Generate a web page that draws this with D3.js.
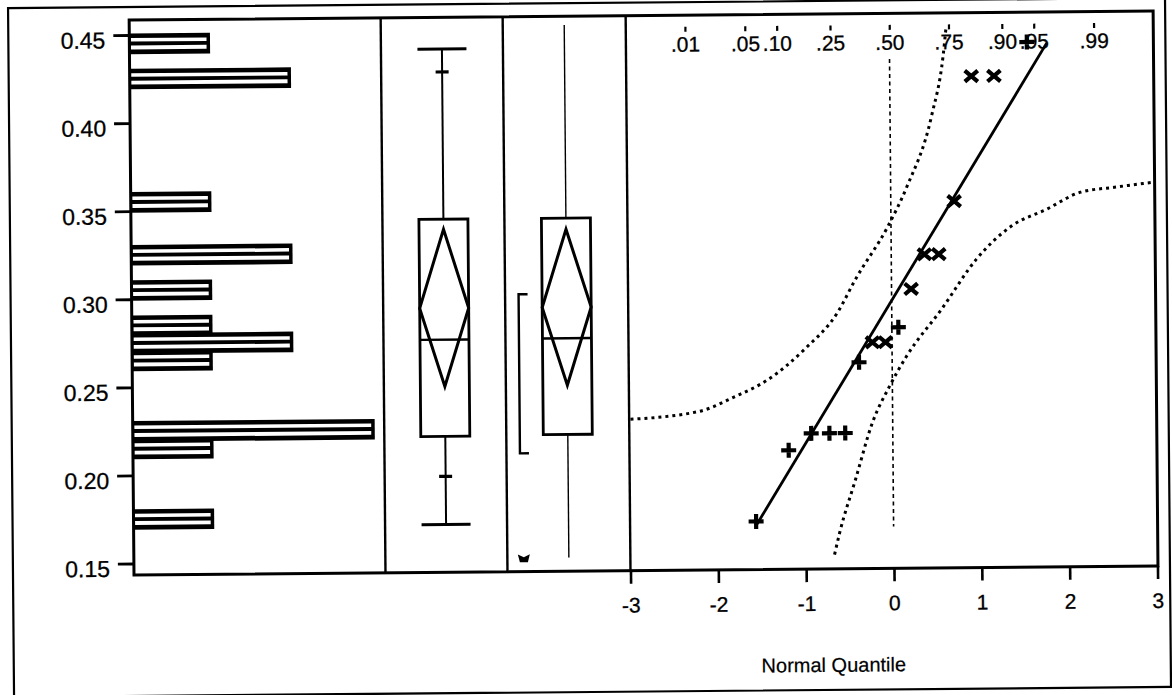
<!DOCTYPE html>
<html><head><meta charset="utf-8">
<script src="https://cdn.jsdelivr.net/npm/d3@7"></script>
<style>
body{margin:0;background:#fff;}
svg{display:block;}
text{font-family:"Liberation Sans",Arial,sans-serif;fill:#000;}
</style></head><body>
<svg id="c" width="1172" height="695"></svg>
<script>
// ---- data ----
const histBinLo = [0.17, 0.21, 0.22, 0.26, 0.27, 0.28, 0.30, 0.32, 0.35, 0.42, 0.44];
const histCounts = [1, 1, 3, 1, 2, 1, 1, 2, 1, 2, 1];
const yTicks = [0.15, 0.20, 0.25, 0.30, 0.35, 0.40, 0.45];
const values = [0.1708, 0.211, 0.2205, 0.2205, 0.2205, 0.2606, 0.2719, 0.2719, 0.2803, 0.302, 0.3216, 0.3216, 0.3516, 0.4225, 0.4225, 0.4416];
const markers = ["+", "+", "+", "+", "+", "+", "x", "x", "+", "x", "x", "x", "x", "x", "x", "+"];
const quantTicks = [-3, -2, -1, 0, 1, 2, 3];
const probLabels = [".01", ".05", ".10", ".25", ".50", ".75", ".90", ".95", ".99"];
const probValues = [0.01, 0.05, 0.10, 0.25, 0.50, 0.75, 0.90, 0.95, 0.99];
const fitMean = 0.2955, fitSD = 0.0812, fitQRange = [-1.56, 1.79];
const bandUpper = [[-2.985,0.2294],[-2.199,0.2336],[-1.799,0.2416],[-1.41,0.2514],[-0.996,0.2683],[-0.617,0.289],[-0.409,0.3078],[-0.04,0.3372],[0.181,0.3596],[0.473,0.4001],[0.61,0.4341],[0.648,0.4511]];
const bandLower = [[-0.675,0.1516],[-0.616,0.1637],[-0.429,0.1941],[-0.23,0.2264],[-0.033,0.2468],[0.164,0.2638],[0.567,0.2903],[0.97,0.3186],[1.371,0.3372],[1.774,0.3466],[2.164,0.3561],[2.564,0.3588],[3.0,0.3614]];
const refLine = [[0, 0.4326], [0, 0.1673]];
// box plots: [outlier box, quantile box]
const boxQ1 = [0.2206, 0.2211];
const boxMedian = [0.2755, 0.2757];
const boxQ3 = [0.3439, 0.3439];
const boxMean = [0.2934, 0.2933];
const boxMeanLo = [0.2490, 0.2490];
const boxMeanHi = [0.3382, 0.3376];
const boxWhiskerLo = [0.1706, 0.1513];
const boxWhiskerHi = [0.4405, 0.4535];
const quantileMarks = [0.1979, 0.4275];
const shortestHalf = [0.2106, 0.3009];
const stray = [0.151];
const binWidth = 0.01;

// ---- inverse normal ----
function qnorm(p){
  const a=[-3.969683028665376e+01,2.209460984245205e+02,-2.759285104469687e+02,1.383577518672690e+02,-3.066479806614716e+01,2.506628277459239e+00];
  const b=[-5.447609879822406e+01,1.615858368580409e+02,-1.556989798598866e+02,6.680131188771972e+01,-1.328068155288572e+01];
  const c=[-7.784894002430293e-03,-3.223964580411365e-01,-2.400758277161838e+00,-2.549732539343734e+00,4.374664141464968e+00,2.938163982698783e+00];
  const d=[7.784695709041462e-03,3.224671290700398e-01,2.445134137142996e+00,3.754408661907416e+00];
  const pl=0.02425; let q,r;
  if(p<pl){q=Math.sqrt(-2*Math.log(p));return (((((c[0]*q+c[1])*q+c[2])*q+c[3])*q+c[4])*q+c[5])/((((d[0]*q+d[1])*q+d[2])*q+d[3])*q+1);}
  if(p<=1-pl){q=p-0.5;r=q*q;return (((((a[0]*r+a[1])*r+a[2])*r+a[3])*r+a[4])*r+a[5])*q/(((((b[0]*r+b[1])*r+b[2])*r+b[3])*r+b[4])*r+1);}
  q=Math.sqrt(-2*Math.log(1-p));return -(((((c[0]*q+c[1])*q+c[2])*q+c[3])*q+c[4])*q+c[5])/((((d[0]*q+d[1])*q+d[2])*q+d[3])*q+1);
}

// ---- layout ----
const L = 134, R = 1158, T = 20, B = 575;
const panelX = [L, 385.5, 507.5, 630.5, R];
const svg = d3.select("#c");
const g = svg.append("g").attr("transform", `rotate(-0.5, ${L}, ${B})`);

const y = d3.scaleLinear().domain([0.15, 0.45]).range([563.5, 35]);
const cx = d3.scaleLinear().domain([0, 3]).range([L, 376]);
const qx = d3.scaleLinear().domain([-3, 3]).range([630.5, 1157.5]);

// outer frame
g.append("rect").attr("x", 13).attr("y", 7).attr("width", 1157).attr("height", 689)
  .attr("fill", "none").attr("stroke", "#000").attr("stroke-width", 2.2);

// histogram bars
const order = d3.range(histCounts.length).sort((a, b) => histCounts[a] - histCounts[b]);
const bars = g.append("g").selectAll("g").data(order).join("g");
bars.each(function(i){
  const s = d3.select(this);
  const y0 = y(histBinLo[i] + binWidth) - 1.5;
  const h = y(histBinLo[i]) - y(histBinLo[i] + binWidth) + 3;
  const x0 = cx(0), w = cx(histCounts[i]) - cx(0);
  s.append("rect").attr("x", x0).attr("y", y0).attr("width", w).attr("height", h).attr("fill", "#000");
  s.append("rect").attr("x", x0 + 1.5).attr("y", y0 + h * 0.22).attr("width", w - 5).attr("height", h * 0.17).attr("fill", "#fff");
  s.append("rect").attr("x", x0 + 1.5).attr("y", y0 + h * 0.58).attr("width", w - 5).attr("height", h * 0.19).attr("fill", "#fff");
});

// box plots
const boxHW = 24.5;
[0, 1].forEach(i => {
  const c = (panelX[i + 1] + panelX[i + 2]) / 2;
  const bg = g.append("g");
  bg.append("line").attr("x1", c).attr("x2", c).attr("y1", y(boxWhiskerLo[i])).attr("y2", y(boxWhiskerHi[i]))
    .attr("stroke", "#000").attr("stroke-width", i === 0 ? 2 : 1.4);
  bg.append("rect").attr("x", c - boxHW).attr("y", y(boxQ3[i])).attr("width", boxHW * 2)
    .attr("height", y(boxQ1[i]) - y(boxQ3[i])).attr("fill", "#fff").attr("stroke", "#000").attr("stroke-width", 2.8);
  bg.append("line").attr("x1", c - boxHW).attr("x2", c + boxHW).attr("y1", y(boxMedian[i])).attr("y2", y(boxMedian[i]))
    .attr("stroke", "#000").attr("stroke-width", 2.4);
  bg.append("path").attr("d", `M${c - boxHW},${y(boxMean[i])}L${c},${y(boxMeanHi[i])}L${c + boxHW},${y(boxMean[i])}L${c},${y(boxMeanLo[i])}Z`)
    .attr("fill", "none").attr("stroke", "#000").attr("stroke-width", 3).attr("stroke-linejoin", "miter");
  if (i === 0) {
    [boxWhiskerLo[0], boxWhiskerHi[0]].forEach(v => bg.append("line").attr("x1", c - boxHW).attr("x2", c + boxHW)
      .attr("y1", y(v)).attr("y2", y(v)).attr("stroke", "#000").attr("stroke-width", 3));
    quantileMarks.forEach(v => bg.append("line").attr("x1", c - 6.5).attr("x2", c + 6.5)
      .attr("y1", y(v)).attr("y2", y(v)).attr("stroke", "#000").attr("stroke-width", 3.2));
  }
});
// shortest half bracket
const bx = panelX[2] + 13.5;
g.append("path").attr("d", `M${bx + 9},${y(shortestHalf[1])}H${bx}V${y(shortestHalf[0])}H${bx + 9}`)
  .attr("fill", "none").attr("stroke", "#000").attr("stroke-width", 2.4);
// stray mark
stray.forEach(v => {
  const sx = panelX[2] + 16.5, sy = y(v);
  g.append("path").attr("d", `M${sx - 6},${sy - 4}L${sx},${sy - 1}L${sx + 6},${sy - 4}L${sx + 4},${sy + 4}L${sx - 4},${sy + 4}Z`).attr("fill", "#000");
});

// normal quantile panel
const clip = svg.append("clipPath").attr("id", "qclip");
clip.append("rect").attr("x", panelX[3]).attr("y", T).attr("width", R - panelX[3]).attr("height", B - T);
const qg = g.append("g").attr("clip-path", "url(#qclip)");
const bandLine = d3.line().x(d => qx(d[0])).y(d => y(d[1])).curve(d3.curveMonotoneX);
[bandUpper, bandLower].forEach(band => qg.append("path").attr("d", bandLine(band)).attr("fill", "none")
  .attr("stroke", "#000").attr("stroke-width", 3).attr("stroke-dasharray", "3,4"));
qg.append("path").attr("d", d3.line().x(d => qx(d[0])).y(d => y(d[1]))(refLine))
  .attr("fill", "none").attr("stroke", "#000").attr("stroke-width", 1.6).attr("stroke-dasharray", "4,3.5");
qg.append("line").attr("x1", qx(fitQRange[0])).attr("y1", y(fitMean + fitSD * fitQRange[0]))
  .attr("x2", qx(fitQRange[1])).attr("y2", y(fitMean + fitSD * fitQRange[1]))
  .attr("stroke", "#000").attr("stroke-width", 2.8);
const n = values.length;
qg.selectAll("path.pt").data(values).join("path").attr("class", "pt")
  .attr("transform", (d, i) => `translate(${qx(qnorm((i + 1) / (n + 1)))},${y(d)})`)
  .attr("d", (d, i) => markers[i] === "+" ? "M-7.5,0H7.5M0,-7.5V7.5" : "M-6.5,-5.5L6.5,5.5M-6.5,5.5L6.5,-5.5")
  .attr("fill", "none").attr("stroke", "#000").attr("stroke-width", 4.2);

// top probability axis
const probAxis = g.append("g").attr("transform", "translate(0,31.5)")
  .call(d3.axisBottom(qx).tickValues(probValues.map(qnorm)).tickFormat((d, i) => probLabels[i]).tickSize(5).tickPadding(5));
probAxis.select(".domain").remove();
probAxis.selectAll("line").attr("stroke-width", 2.2);
probAxis.selectAll("text").attr("font-size", 21).attr("font-family", '"Liberation Sans",Arial,sans-serif')
  .attr("stroke", "#000").attr("stroke-width", 0.3);

// inner frame & separators
g.append("rect").attr("x", L).attr("y", T).attr("width", R - L).attr("height", B - T)
  .attr("fill", "none").attr("stroke", "#000").attr("stroke-width", 3);
panelX.slice(1, 4).forEach(px => g.append("line").attr("x1", px).attr("x2", px).attr("y1", T).attr("y2", B)
  .attr("stroke", "#000").attr("stroke-width", 2.4));

// y axis
const yAxis = g.append("g").attr("transform", `translate(${L},0)`)
  .call(d3.axisLeft(y).tickValues(yTicks).tickFormat(d3.format(".2f")).tickSize(16).tickPadding(8));
yAxis.select(".domain").remove();
yAxis.selectAll("line").attr("stroke-width", 2.8);
yAxis.selectAll("text").attr("font-size", 23).attr("dy", "0.55em").attr("font-family", '"Liberation Sans",Arial,sans-serif')
  .attr("stroke", "#000").attr("stroke-width", 0.3);

// bottom quantile axis
const xAxis = g.append("g").attr("transform", `translate(0,${B})`)
  .call(d3.axisBottom(qx).tickValues(quantTicks).tickFormat(d => String(d)).tickSize(13).tickPadding(14));
xAxis.select(".domain").remove();
xAxis.selectAll("line").attr("stroke-width", 2.6);
xAxis.selectAll("text").attr("font-size", 21).attr("font-family", '"Liberation Sans",Arial,sans-serif')
  .attr("stroke", "#000").attr("stroke-width", 0.3);

g.append("text").attr("x", 833).attr("y", 678).attr("text-anchor", "middle")
  .attr("font-size", 20).attr("stroke", "#000").attr("stroke-width", 0.2).text("Normal Quantile");
</script>
</body></html>
